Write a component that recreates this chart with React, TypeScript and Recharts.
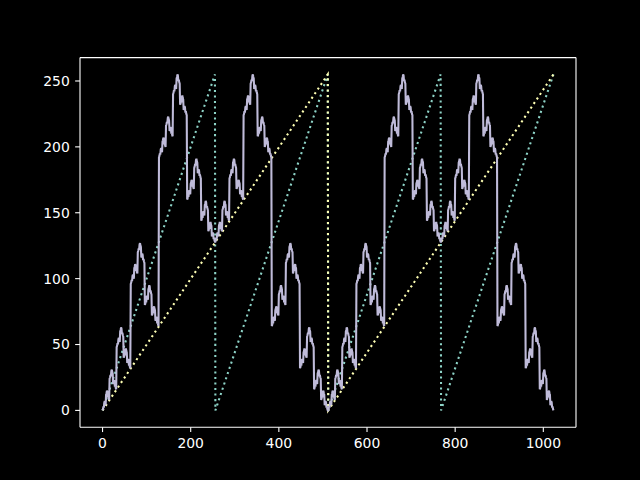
import { LineChart, Line, XAxis, YAxis } from 'recharts';

// sawtooth x & 255, drawn through its corners
const rampX = [0, 255, 256, 511, 512, 767, 768, 1023];
const rampY = [0, 255, 0, 255, 0, 255, 0, 255];

// slower sawtooth (x >> 1) & 255
const halfX = [0, 511, 512, 1023];
const halfY = [0, 255, 0, 255];

// lavender curve, x = 0..511
const grayFirst = [
  0, 1, 3, 2, 6, 7, 5, 4, 12, 13, 15, 14, 10, 11, 9, 8,
  24, 25, 27, 26, 30, 31, 29, 28, 20, 21, 23, 22, 18, 19, 17, 16,
  48, 49, 51, 50, 54, 55, 53, 52, 60, 61, 63, 62, 58, 59, 57, 56,
  40, 41, 43, 42, 46, 47, 45, 44, 36, 37, 39, 38, 34, 35, 33, 32,
  96, 97, 99, 98, 102, 103, 101, 100, 108, 109, 111, 110, 106, 107, 105, 104,
  120, 121, 123, 122, 126, 127, 125, 124, 116, 117, 119, 118, 114, 115, 113, 112,
  80, 81, 83, 82, 86, 87, 85, 84, 92, 93, 95, 94, 90, 91, 89, 88,
  72, 73, 75, 74, 78, 79, 77, 76, 68, 69, 71, 70, 66, 67, 65, 64,
  192, 193, 195, 194, 198, 199, 197, 196, 204, 205, 207, 206, 202, 203, 201, 200,
  216, 217, 219, 218, 222, 223, 221, 220, 212, 213, 215, 214, 210, 211, 209, 208,
  240, 241, 243, 242, 246, 247, 245, 244, 252, 253, 255, 254, 250, 251, 249, 248,
  232, 233, 235, 234, 238, 239, 237, 236, 228, 229, 231, 230, 226, 227, 225, 224,
  160, 161, 163, 162, 166, 167, 165, 164, 172, 173, 175, 174, 170, 171, 169, 168,
  184, 185, 187, 186, 190, 191, 189, 188, 180, 181, 183, 182, 178, 179, 177, 176,
  144, 145, 147, 146, 150, 151, 149, 148, 156, 157, 159, 158, 154, 155, 153, 152,
  136, 137, 139, 138, 142, 143, 141, 140, 132, 133, 135, 134, 130, 131, 129, 128,
  128, 129, 131, 130, 134, 135, 133, 132, 140, 141, 143, 142, 138, 139, 137, 136,
  152, 153, 155, 154, 158, 159, 157, 156, 148, 149, 151, 150, 146, 147, 145, 144,
  176, 177, 179, 178, 182, 183, 181, 180, 188, 189, 191, 190, 186, 187, 185, 184,
  168, 169, 171, 170, 174, 175, 173, 172, 164, 165, 167, 166, 162, 163, 161, 160,
  224, 225, 227, 226, 230, 231, 229, 228, 236, 237, 239, 238, 234, 235, 233, 232,
  248, 249, 251, 250, 254, 255, 253, 252, 244, 245, 247, 246, 242, 243, 241, 240,
  208, 209, 211, 210, 214, 215, 213, 212, 220, 221, 223, 222, 218, 219, 217, 216,
  200, 201, 203, 202, 206, 207, 205, 204, 196, 197, 199, 198, 194, 195, 193, 192,
  64, 65, 67, 66, 70, 71, 69, 68, 76, 77, 79, 78, 74, 75, 73, 72,
  88, 89, 91, 90, 94, 95, 93, 92, 84, 85, 87, 86, 82, 83, 81, 80,
  112, 113, 115, 114, 118, 119, 117, 116, 124, 125, 127, 126, 122, 123, 121, 120,
  104, 105, 107, 106, 110, 111, 109, 108, 100, 101, 103, 102, 98, 99, 97, 96,
  32, 33, 35, 34, 38, 39, 37, 36, 44, 45, 47, 46, 42, 43, 41, 40,
  56, 57, 59, 58, 62, 63, 61, 60, 52, 53, 55, 54, 50, 51, 49, 48,
  16, 17, 19, 18, 22, 23, 21, 20, 28, 29, 31, 30, 26, 27, 25, 24,
  8, 9, 11, 10, 14, 15, 13, 12, 4, 5, 7, 6, 2, 3, 1, 0,
];

// lavender curve, x = 512..1023
const graySecond = [
  0, 1, 3, 2, 6, 7, 5, 4, 12, 13, 15, 14, 10, 11, 9, 8,
  24, 25, 27, 26, 30, 31, 29, 28, 20, 21, 23, 22, 18, 19, 17, 16,
  48, 49, 51, 50, 54, 55, 53, 52, 60, 61, 63, 62, 58, 59, 57, 56,
  40, 41, 43, 42, 46, 47, 45, 44, 36, 37, 39, 38, 34, 35, 33, 32,
  96, 97, 99, 98, 102, 103, 101, 100, 108, 109, 111, 110, 106, 107, 105, 104,
  120, 121, 123, 122, 126, 127, 125, 124, 116, 117, 119, 118, 114, 115, 113, 112,
  80, 81, 83, 82, 86, 87, 85, 84, 92, 93, 95, 94, 90, 91, 89, 88,
  72, 73, 75, 74, 78, 79, 77, 76, 68, 69, 71, 70, 66, 67, 65, 64,
  192, 193, 195, 194, 198, 199, 197, 196, 204, 205, 207, 206, 202, 203, 201, 200,
  216, 217, 219, 218, 222, 223, 221, 220, 212, 213, 215, 214, 210, 211, 209, 208,
  240, 241, 243, 242, 246, 247, 245, 244, 252, 253, 255, 254, 250, 251, 249, 248,
  232, 233, 235, 234, 238, 239, 237, 236, 228, 229, 231, 230, 226, 227, 225, 224,
  160, 161, 163, 162, 166, 167, 165, 164, 172, 173, 175, 174, 170, 171, 169, 168,
  184, 185, 187, 186, 190, 191, 189, 188, 180, 181, 183, 182, 178, 179, 177, 176,
  144, 145, 147, 146, 150, 151, 149, 148, 156, 157, 159, 158, 154, 155, 153, 152,
  136, 137, 139, 138, 142, 143, 141, 140, 132, 133, 135, 134, 130, 131, 129, 128,
  128, 129, 131, 130, 134, 135, 133, 132, 140, 141, 143, 142, 138, 139, 137, 136,
  152, 153, 155, 154, 158, 159, 157, 156, 148, 149, 151, 150, 146, 147, 145, 144,
  176, 177, 179, 178, 182, 183, 181, 180, 188, 189, 191, 190, 186, 187, 185, 184,
  168, 169, 171, 170, 174, 175, 173, 172, 164, 165, 167, 166, 162, 163, 161, 160,
  224, 225, 227, 226, 230, 231, 229, 228, 236, 237, 239, 238, 234, 235, 233, 232,
  248, 249, 251, 250, 254, 255, 253, 252, 244, 245, 247, 246, 242, 243, 241, 240,
  208, 209, 211, 210, 214, 215, 213, 212, 220, 221, 223, 222, 218, 219, 217, 216,
  200, 201, 203, 202, 206, 207, 205, 204, 196, 197, 199, 198, 194, 195, 193, 192,
  64, 65, 67, 66, 70, 71, 69, 68, 76, 77, 79, 78, 74, 75, 73, 72,
  88, 89, 91, 90, 94, 95, 93, 92, 84, 85, 87, 86, 82, 83, 81, 80,
  112, 113, 115, 114, 118, 119, 117, 116, 124, 125, 127, 126, 122, 123, 121, 120,
  104, 105, 107, 106, 110, 111, 109, 108, 100, 101, 103, 102, 98, 99, 97, 96,
  32, 33, 35, 34, 38, 39, 37, 36, 44, 45, 47, 46, 42, 43, 41, 40,
  56, 57, 59, 58, 62, 63, 61, 60, 52, 53, 55, 54, 50, 51, 49, 48,
  16, 17, 19, 18, 22, 23, 21, 20, 28, 29, 31, 30, 26, 27, 25, 24,
  8, 9, 11, 10, 14, 15, 13, 12, 4, 5, 7, 6, 2, 3, 1, 0,
];

const xTicks = [0, 200, 400, 600, 800, 1000];
const yTicks = [0, 50, 100, 150, 200, 250];

const rampData = rampX.map((x, i) => ({ x, y: rampY[i] }));
const halfData = halfX.map((x, i) => ({ x, y: halfY[i] }));
const grayData = [...grayFirst, ...graySecond].map((y, i) => ({ x: i, y }));

const font = { fill: '#ffffff', fontSize: 13.9, fontFamily: 'DejaVu Sans' };
const spine = { stroke: '#ffffff', strokeWidth: 1.1 };
const dotted = '2.08 3.44';

export default function App() {
  return (
    <div style={{ position: 'fixed', inset: 0, background: '#000000' }}>
      <LineChart
        width={640}
        height={480}
        margin={{ top: 56.6, right: 63, bottom: 22.8, left: 20 }}
      >
        <XAxis
          xAxisId="b"
          dataKey="x"
          type="number"
          domain={[-51.15, 1074.15]}
          ticks={xTicks}
          allowDataOverflow
          height={30}
          axisLine={spine}
          tickLine={spine}
          tickSize={4.86}
          tickMargin={6}
          tick={font}
        />
        <XAxis
          xAxisId="t"
          orientation="top"
          type="number"
          domain={[-51.15, 1074.15]}
          ticks={xTicks}
          height={1}
          axisLine={spine}
          tick={false}
          tickLine={false}
        />
        <YAxis
          yAxisId="l"
          type="number"
          domain={[-12.75, 267.75]}
          ticks={yTicks}
          allowDataOverflow
          width={60}
          axisLine={spine}
          tickLine={spine}
          tickSize={4.86}
          tickMargin={5.4}
          tick={font}
        />
        <YAxis
          yAxisId="r"
          orientation="right"
          type="number"
          domain={[-12.75, 267.75]}
          ticks={yTicks}
          width={1}
          axisLine={spine}
          tick={false}
          tickLine={false}
        />

        <Line
          xAxisId="b"
          yAxisId="l"
          data={rampData}
          dataKey="y"
          type="linear"
          stroke="#8dd3c7"
          strokeWidth={2.08}
          strokeDasharray={dotted}
          dot={false}
          activeDot={false}
          isAnimationActive={false}
        />
        <Line
          xAxisId="b"
          yAxisId="l"
          data={halfData}
          dataKey="y"
          type="linear"
          stroke="#feffb3"
          strokeWidth={2.08}
          strokeDasharray={dotted}
          dot={false}
          activeDot={false}
          isAnimationActive={false}
        />
        <Line
          xAxisId="b"
          yAxisId="l"
          data={grayData}
          dataKey="y"
          type="linear"
          stroke="#bfbbd9"
          strokeWidth={2.08}
          dot={false}
          activeDot={false}
          isAnimationActive={false}
        />
        {/* unused series keeps the top/right frame axes in the chart */}
        <Line
          xAxisId="t"
          yAxisId="r"
          data={halfData}
          dataKey="y"
          stroke="none"
          dot={false}
          activeDot={false}
          isAnimationActive={false}
        />
      </LineChart>
    </div>
  );
}
